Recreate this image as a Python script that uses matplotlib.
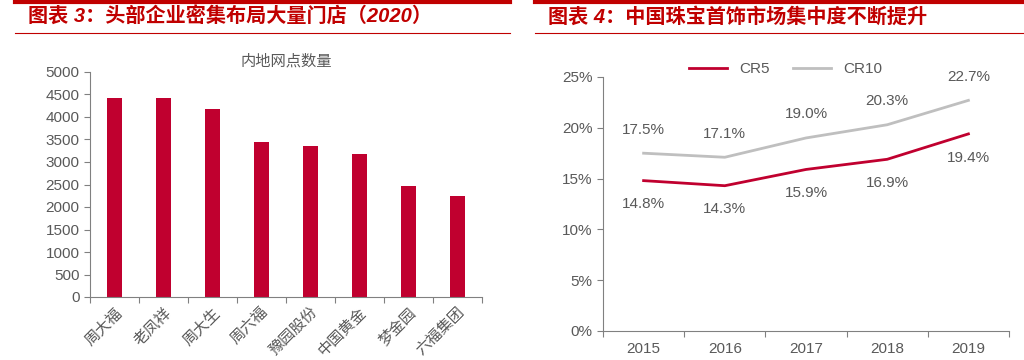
import matplotlib.pyplot as plt
from matplotlib.lines import Line2D

plt.rcParams['font.family'] = ['Liberation Sans', 'Noto Sans CJK SC', 'DejaVu Sans']

# left chart data
companies = ['周大福', '老凤祥', '周大生', '周六福', '豫园股份', '中国黄金', '梦金园', '六福集团']
stores = [4430, 4430, 4180, 3440, 3360, 3170, 2470, 2240]

# right chart data
years = ['2015', '2016', '2017', '2018', '2019']
cr5 = [14.8, 14.3, 15.9, 16.9, 19.4]
cr10 = [17.5, 17.1, 19.0, 20.3, 22.7]

red = '#C0002F'
gray_line = '#BFBFBF'
txt = '#595959'
title_red = '#C00000'

W, H = 1024, 360
fig = plt.figure(figsize=(W / 100, H / 100), dpi=100)


def px_axes(x0, y0, x1, y1):
    # pixel box (top-left origin) -> figure axes
    return fig.add_axes([x0 / W, 1 - y1 / H, (x1 - x0) / W, (y1 - y0) / H])


# header lines and titles
for xa, xb in [(15, 510), (535, 1024)]:
    fig.add_artist(Line2D([xa / W, xb / W], [1 - 2 / H, 1 - 2 / H], color=title_red, lw=3))
    fig.add_artist(Line2D([xa / W, xb / W], [1 - 33 / H, 1 - 33 / H], color=title_red, lw=0.8))
fig.text(28 / W, 1 - 17 / H, '图表 3：头部企业密集布局大量门店（2020）', color=title_red,
         fontsize=14.5, fontweight='bold', va='center', ha='left', style='italic')
fig.text(548 / W, 1 - 17 / H, '图表 4：中国珠宝首饰市场集中度不断提升', color=title_red,
         fontsize=14.5, fontweight='bold', va='center', ha='left', style='italic')

# ---- left: bar chart ----
ax1 = px_axes(90, 72, 482, 297)
x = range(len(companies))
ax1.bar(x, stores, width=0.32, color=red)
ax1.set_ylim(0, 5000)
ax1.set_xlim(-0.5, len(companies) - 0.5)
ax1.set_yticks(range(0, 5001, 500))
ax1.set_xticks([i - 0.5 for i in range(len(companies) + 1)], minor=False)
ax1.set_xticklabels([])
ax1.set_xticks(list(x), minor=True)
ax1.set_xticklabels(companies, minor=True, rotation=45, ha='right', rotation_mode='anchor',
                    fontsize=11, color=txt)
ax1.tick_params(axis='x', which='minor', length=0, pad=6)
ax1.tick_params(axis='x', which='major', length=4, direction='out', color='#808080')
ax1.tick_params(axis='y', labelsize=11, colors=txt, length=4, direction='out')
ax1.tick_params(axis='y', color='#808080')
for s in ['top', 'right']:
    ax1.spines[s].set_visible(False)
for s in ['left', 'bottom']:
    ax1.spines[s].set_color('#808080')
ax1.set_title('内地网点数量', fontsize=11, color=txt, pad=5)

# ---- right: line chart ----
ax2 = px_axes(603, 77, 1009, 331)
xi = range(len(years))
ax2.plot(xi, cr5, color=red, lw=2, label='CR5')
ax2.plot(xi, cr10, color=gray_line, lw=2, label='CR10')
for i in xi:
    ax2.annotate(f'{cr5[i]:.1f}%', (i, cr5[i]), xytext=(0, -17), textcoords='offset points',
                 ha='center', va='center', fontsize=11, color=txt)
    ax2.annotate(f'{cr10[i]:.1f}%', (i, cr10[i]), xytext=(0, 17), textcoords='offset points',
                 ha='center', va='center', fontsize=11, color=txt)
ax2.set_ylim(0, 25)
ax2.set_xlim(-0.5, len(years) - 0.5)
ax2.set_yticks(range(0, 26, 5))
ax2.set_yticklabels([f'{v}%' for v in range(0, 26, 5)])
ax2.set_xticks([i - 0.5 for i in range(len(years) + 1)])
ax2.set_xticklabels([])
ax2.set_xticks(list(xi), minor=True)
ax2.set_xticklabels(years, minor=True, fontsize=11, color=txt)
ax2.tick_params(axis='x', which='minor', length=0, pad=8)
ax2.tick_params(axis='x', which='major', length=4, color='#808080')
ax2.tick_params(axis='y', labelsize=11, colors=txt, length=4, color='#808080')
for s in ['top', 'right']:
    ax2.spines[s].set_visible(False)
for s in ['left', 'bottom']:
    ax2.spines[s].set_color('#808080')
ax2.legend(loc='lower center', bbox_to_anchor=(0.45, 0.98), ncol=2, frameon=False,
           fontsize=11, labelcolor=txt, handlelength=2.5, columnspacing=1.5,
           borderaxespad=0)

fig.savefig('out.png', dpi=100, facecolor='white')
